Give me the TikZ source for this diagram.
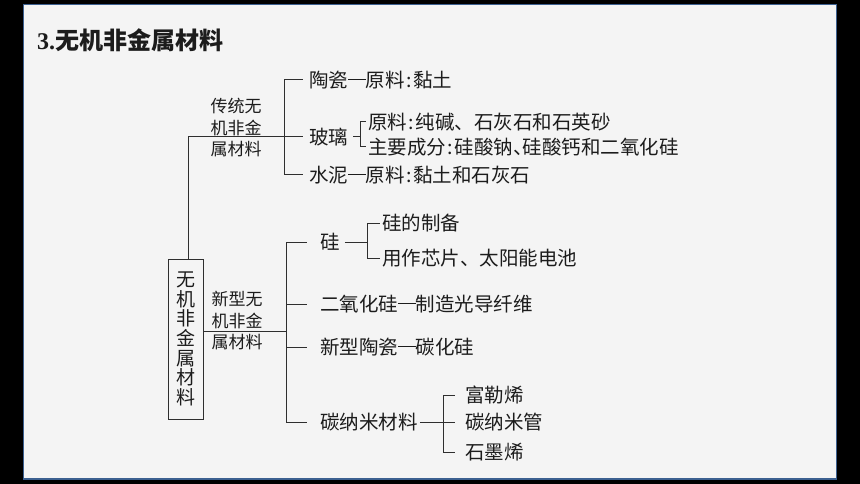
\documentclass[tikz,border=0pt]{standalone}
\usepackage{fontspec}
\usepackage{xcolor}
\usepackage{tikz}
\usetikzlibrary{positioning}
\setmainfont{Liberation Serif}
\newfontfamily\cjk{Noto Sans CJK SC}
\definecolor{panel}{HTML}{F4F4F4}
\definecolor{frame}{HTML}{3C6090}
\definecolor{ink}{HTML}{1C1C1C}
\definecolor{wire}{HTML}{2E2E2E}
\newcommand{\cjkdash}{\rule[0.36em]{0.9em}{0.06em}}
\newcommand{\cjkcolon}{\hspace{1.5pt}:\hspace{1.5pt}}
\newcommand{\halfdun}{\makebox[0.5em][l]{、}}

\begin{document}
\begin{tikzpicture}[x=1pt,y=-1pt]
		\tikzstyle{leaf}=[anchor=west, inner sep=0pt, text=ink, font=\cjk\fontsize{19.5}{21}\selectfont]
		\tikzstyle{group_text}=[align=center, inner sep=0pt, text=ink, font=\cjk\fontsize{17}{21.5}\selectfont]
		\tikzstyle{root}=[draw=wire, line width=1pt, fill=panel, minimum width=35pt, minimum height=160pt, inner sep=0pt, align=center, text=ink, font=\cjk\fontsize{19}{19.7}\selectfont]
		\tikzstyle{line}=[draw=wire, line width=1pt]

		\useasboundingbox (0,0) rectangle (860,484);
		\fill[black] (0,0) rectangle (860,484);
		\draw[frame, line width=1.5pt, fill=panel] (23.5,4.5) rectangle (836.5,479);

		\node (title) [anchor=west, inner sep=0pt, text=ink] at (37,40) {\fontsize{24}{26}\selectfont\bfseries 3.\cjk 无机非金属材料};

		\node [root] (main) at (185.5,339) {无\\机\\非\\金\\属\\材\\料};

		\begin{scope}
			\node [group_text] (trad) at (236,128) {传统无\\机非金\\属材料};

			\node [leaf] (taoci) at (309,80) {陶瓷\cjkdash 原料\cjkcolon 黏土};
			\node [leaf] (boli) at (309,137) {玻璃};
			\node [leaf] (shuini) at (309,175) {水泥\cjkdash 原料\cjkcolon 黏土和石灰石};
			\node [leaf] (boli_a) at (368,122) {原料\cjkcolon 纯碱、石灰石和石英砂};
			\node [leaf] (boli_b) at (368,147) {主要成分\cjkcolon 硅酸钠\halfdun 硅酸钙和二氧化硅};

			\coordinate (trad_fork) at (284,137);
			\coordinate (boli_fork) at (360,137);
		\end{scope}

		\begin{scope}
			\node [group_text] (new) at (237,321) {新型无\\机非金\\属材料};

			\node [leaf] (gui) at (320,242) {硅};
			\node [leaf] (gui_a) at (382,223) {硅的制备};
			\node [leaf] (gui_b) at (382,258) {用作芯片、太阳能电池};
			\node [leaf] (sio2) at (320,304) {二氧化硅\cjkdash 制造光导纤维};
			\node [leaf] (taoci_new) at (320,347) {新型陶瓷\cjkdash 碳化硅};
			\node [leaf] (cnm) at (320,422) {碳纳米材料};
			\node [leaf] (cnm_a) at (465,395) {富勒烯};
			\node [leaf] (cnm_b) at (465,422) {碳纳米管};
			\node [leaf] (cnm_c) at (465,452) {石墨烯};

			\coordinate (new_fork) at (286,331);
			\coordinate (gui_fork) at (367,242);
			\coordinate (cnm_fork) at (443,422);
		\end{scope}

	\draw[line] ([xshift=2.5pt]main.north) |- (trad_fork);
	\draw[line] (trad_fork |- taoci) -- (trad_fork |- shuini);
	\foreach \n in {taoci,boli,shuini}
		\draw[line, shorten >=6pt] (trad_fork |- \n) -- (\n.west);

	\draw[line, shorten <=5pt] (boli.east) -- (boli_fork);
	\draw[line] (boli_fork |- boli_a) -- (boli_fork |- boli_b);
	\foreach \n in {boli_a,boli_b}
		\draw[line, shorten >=2pt] (boli_fork |- \n) -- (\n.west);

	\draw[line] (main.east |- new_fork) -- (new_fork);
	\draw[line] (new_fork |- gui) -- (new_fork |- cnm);
	\foreach \n in {gui,sio2,taoci_new,cnm}
		\draw[line, shorten >=13pt] (new_fork |- \n) -- (\n.west);

	\draw[line, shorten <=5pt] (gui.east) -- (gui_fork);
	\draw[line] (gui_fork |- gui_a) -- (gui_fork |- gui_b);
	\foreach \n in {gui_a,gui_b}
		\draw[line, shorten >=2pt] (gui_fork |- \n) -- (\n.west);

	\draw[line, shorten <=2pt, shorten >=10pt] (cnm.east) -- (cnm_b.west);
	\draw[line] (cnm_fork |- cnm_a) -- (cnm_fork |- cnm_c);
	\foreach \n in {cnm_a,cnm_c}
		\draw[line, shorten >=10pt] (cnm_fork |- \n) -- (\n.west);

	\end{tikzpicture}
\end{document}
